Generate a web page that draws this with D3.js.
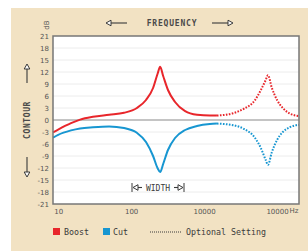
<!DOCTYPE html>
<html>
<head>
<meta charset="utf-8">
<script src="https://cdn.jsdelivr.net/npm/d3@7"></script>
<style>
  body { margin: 0; background: #fff; }
  text { font-family: "DejaVu Sans Mono", monospace; }
</style>
</head>
<body>
<div id="chart"></div>
<script>
// Boost curve (solid part), Hz and dB
var boostFreq = [8.5, 10, 15, 20, 30, 50, 80, 120, 160, 200, 230, 250, 275, 320, 400, 550, 800, 1200, 1500];
var boostDb   = [-3.1, -2.4, -0.8, 0.1, 0.8, 1.3, 1.8, 3, 5, 8, 11.5, 13.3, 11, 7.5, 4.5, 2.2, 1.3, 1.1, 1.1];

// Cut curve (solid part)
var cutFreq = [8.5, 10, 15, 20, 30, 50, 80, 120, 160, 200, 230, 250, 275, 320, 400, 550, 800, 1200, 1500];
var cutDb   = [-4.4, -3.7, -2.6, -2.1, -1.8, -1.6, -2, -3.2, -5.5, -9, -12, -13, -11, -7.5, -4.5, -2.5, -1.5, -1, -0.9];

// Optional setting (dotted part)
var optFreq     = [1500, 2500, 3500, 5000, 6000, 7000, 7500, 8500, 10000, 12000, 15000, 20000];
var optBoostDb  = [1.1, 1.7, 2.8, 5, 7.5, 10, 11.2, 8, 5, 3, 1.6, 1];
var optCutDb    = [-0.9, -1.3, -2.2, -4.5, -7, -10, -11.2, -8, -5, -3, -1.8, -1.2];

// Axis ticks
var yTicks = [21, 18, 15, 12, 9, 6, 3, 0, -3, -6, -9, -12, -15, -18, -21];
var xTicks = [10, 100, 1000, 10000];
var xTickLabels = ["10", "100", "10000", "10000"];

var width = 308,
    height = 251;

var red = "#e8262b",
    blue = "#1796d1",
    ink = "#3a3a3a";

var svg = d3.select("#chart")
            .append("svg")
              .attr("width", width)
              .attr("height", height);

// Beige panel
svg.append("rect")
    .attr("x", 11)
    .attr("y", 8)
    .attr("width", width - 11)
    .attr("height", height - 8)
    .attr("fill", "#f2e2c3");

var plot = {left: 53, top: 36, right: 299, bottom: 204};

var x = d3.scaleLog()
          .domain([8.5, 20000])
          .range([plot.left, plot.right]);

var y = d3.scaleLinear()
          .domain([-21, 21])
          .range([plot.bottom, plot.top]);

// Plot background
svg.append("rect")
    .attr("x", plot.left)
    .attr("y", plot.top)
    .attr("width", plot.right - plot.left)
    .attr("height", plot.bottom - plot.top)
    .attr("fill", "#fff");

// Grid lines
svg.append("g")
  .selectAll("line")
  .data(yTicks.filter(function(d) { return d != 0 && Math.abs(d) != 21; }))
  .enter()
  .append("line")
    .attr("x1", plot.left)
    .attr("x2", plot.right)
    .attr("y1", function(d) { return y(d); })
    .attr("y2", function(d) { return y(d); })
    .attr("stroke", "#ececec")
    .attr("stroke-width", 1);

// Zero line
svg.append("line")
    .attr("x1", plot.left)
    .attr("x2", plot.right)
    .attr("y1", y(0))
    .attr("y2", y(0))
    .attr("stroke", "#8a8a8a")
    .attr("stroke-width", 1.2);

// Y axis labels
var yAxis = svg.append("g")
    .attr("transform", "translate(" + (plot.left - 2) + ",0)")
    .call(d3.axisLeft(y).tickValues(yTicks).tickSize(0).tickPadding(2)
            .tickFormat(function(d) { return d < 0 ? "-" + Math.abs(d) : d; }));
yAxis.select(".domain").remove();
yAxis.selectAll("text")
    .attr("fill", "#555")
    .style("font-family", "DejaVu Sans, sans-serif")
    .style("font-size", "7px");

// X axis labels
var xAxis = svg.append("g")
    .attr("transform", "translate(0," + (plot.bottom + 4) + ")")
    .call(d3.axisBottom(x).tickValues(xTicks).tickSize(0).tickPadding(1)
            .tickFormat(function(d, i) { return xTickLabels[i]; }));
xAxis.select(".domain").remove();
xAxis.selectAll("text")
    .attr("fill", "#555")
    .style("font-family", "DejaVu Sans, sans-serif")
    .style("font-size", "7px");

svg.append("text")
    .attr("x", 294)
    .attr("y", 213)
    .attr("text-anchor", "middle")
    .attr("fill", "#555")
    .style("font-family", "DejaVu Sans, sans-serif")
    .style("font-size", "7px")
    .text("Hz");

// Line generator
var line = d3.line()
             .x(function(d) { return x(d[0]); })
             .y(function(d) { return y(d[1]); })
             .curve(d3.curveMonotoneX);

function pairs(fs, vs) {
  return fs.map(function(f, i) { return [f, vs[i]]; });
}

var plotArea = svg.append("g");

plotArea.append("path")
    .attr("d", line(pairs(boostFreq, boostDb)))
    .attr("fill", "none")
    .attr("stroke", red)
    .attr("stroke-width", 2);

plotArea.append("path")
    .attr("d", line(pairs(cutFreq, cutDb)))
    .attr("fill", "none")
    .attr("stroke", blue)
    .attr("stroke-width", 2);

plotArea.append("path")
    .attr("d", line(pairs(optFreq, optBoostDb)))
    .attr("fill", "none")
    .attr("stroke", red)
    .attr("stroke-width", 2)
    .attr("stroke-dasharray", "1.6,1.4");

plotArea.append("path")
    .attr("d", line(pairs(optFreq, optCutDb)))
    .attr("fill", "none")
    .attr("stroke", blue)
    .attr("stroke-width", 2)
    .attr("stroke-dasharray", "1.6,1.4");

// Plot border
svg.append("rect")
    .attr("x", plot.left)
    .attr("y", plot.top)
    .attr("width", plot.right - plot.left)
    .attr("height", plot.bottom - plot.top)
    .attr("fill", "none")
    .attr("stroke", "#777")
    .attr("stroke-width", 1.5);

// Hollow arrow helper: line from (x1,y1) to tip (x2,y2)
function arrow(x1, y1, x2, y2) {
  var g = svg.append("g");
  var ang = Math.atan2(y2 - y1, x2 - x1);
  var len = 5, half = 2.8;
  var bx = x2 - len * Math.cos(ang), by = y2 - len * Math.sin(ang);
  g.append("line")
      .attr("x1", x1).attr("y1", y1)
      .attr("x2", bx).attr("y2", by)
      .attr("stroke", ink)
      .attr("stroke-width", 1.1);
  var px = -Math.sin(ang) * half, py = Math.cos(ang) * half;
  g.append("polygon")
      .attr("points", [[x2, y2], [bx + px, by + py], [bx - px, by - py]].join(" "))
      .attr("fill", "#fff")
      .attr("stroke", ink)
      .attr("stroke-width", 1);
  return g;
}

// Title with arrows
svg.append("text")
    .attr("x", 172)
    .attr("y", 26)
    .attr("text-anchor", "middle")
    .attr("fill", "#4a4a4a")
    .style("font-size", "8px")
    .style("font-weight", "bold")
    .style("letter-spacing", "0.8px")
    .text("FREQUENCY");
arrow(127, 23, 106, 23);
arrow(212, 23, 233, 23);

// Y title with arrows
svg.append("text")
    .attr("transform", "translate(30,120) rotate(-90)")
    .attr("text-anchor", "middle")
    .attr("fill", "#4a4a4a")
    .style("font-size", "8px")
    .style("font-weight", "bold")
    .style("letter-spacing", "0.6px")
    .text("CONTOUR");
arrow(27, 83, 27, 64);
arrow(27, 157, 27, 177);

svg.append("text")
    .attr("transform", "translate(49,25) rotate(-90)")
    .attr("text-anchor", "middle")
    .attr("fill", "#555")
    .style("font-family", "DejaVu Sans, sans-serif")
    .style("font-size", "7px")
    .text("dB");

// Width annotation
svg.append("line")
    .attr("x1", 132).attr("x2", 132)
    .attr("y1", 183).attr("y2", 192)
    .attr("stroke", ink).attr("stroke-width", 1);
svg.append("line")
    .attr("x1", 184).attr("x2", 184)
    .attr("y1", 183).attr("y2", 192)
    .attr("stroke", ink).attr("stroke-width", 1);
arrow(142, 187.5, 133, 187.5);
arrow(174, 187.5, 183, 187.5);
svg.append("text")
    .attr("x", 158)
    .attr("y", 190.5)
    .attr("text-anchor", "middle")
    .attr("fill", ink)
    .style("font-size", "8px")
    .text("WIDTH");

// Legend
var legend = svg.append("g");
legend.append("rect")
    .attr("x", 53).attr("y", 228)
    .attr("width", 7).attr("height", 7)
    .attr("fill", red);
legend.append("text")
    .attr("x", 64).attr("y", 234.5)
    .attr("fill", ink)
    .style("font-size", "8.3px")
    .text("Boost");
legend.append("rect")
    .attr("x", 103).attr("y", 228)
    .attr("width", 7).attr("height", 7)
    .attr("fill", blue);
legend.append("text")
    .attr("x", 113).attr("y", 234.5)
    .attr("fill", ink)
    .style("font-size", "8.3px")
    .text("Cut");
legend.append("line")
    .attr("x1", 150).attr("x2", 181)
    .attr("y1", 232).attr("y2", 232)
    .attr("stroke", ink)
    .attr("stroke-width", 1)
    .attr("stroke-dasharray", "1,1");
legend.append("text")
    .attr("x", 186).attr("y", 234.5)
    .attr("fill", ink)
    .style("font-size", "8.3px")
    .text("Optional Setting");
</script>
</body>
</html>
